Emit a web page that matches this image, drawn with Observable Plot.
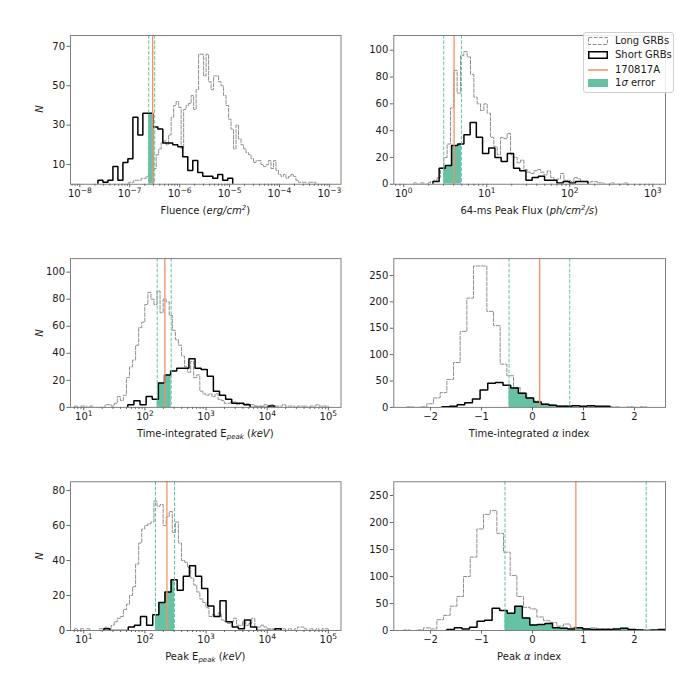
<!DOCTYPE html>
<html>
<head>
<meta charset="utf-8">
<script src="https://cdn.jsdelivr.net/npm/d3@7"></script>
<script src="https://cdn.jsdelivr.net/npm/@observablehq/plot@0.6"></script>
<style>
  body { margin: 0; background: #fff; }
  #fig { position: relative; width: 700px; height: 700px; font-family: "DejaVu Sans", sans-serif; color: #1a1a1a; }
  .cell { position: absolute; }
  .lab { position: absolute; font-size: 10px; line-height: 12px; white-space: nowrap; text-align: center; }
  .lab sup { font-size: 7px; vertical-align: 4px; line-height: 0; }
  .lab sub { font-size: 7px; vertical-align: -2px; line-height: 0; }
  .ylab { position: absolute; font-size: 10px; font-style: italic; transform: rotate(-90deg); line-height: 12px; }
  #legend { position: absolute; left: 583px; top: 32px; width: 89px; height: 59px; border: 1px solid #cfcfcf; border-radius: 3px; background: rgba(255,255,255,0.85); font-size: 10px; }
  .lrow { position: absolute; left: 0; height: 12px; line-height: 12px; }
  .lrow svg { position: absolute; left: 4px; top: 2px; }
  .lrow span { position: absolute; left: 31px; top: 0; white-space: nowrap; }
</style>
</head>
<body>
<div id="fig"></div>
<script>
// ---------------- DATA ----------------
// Histogram bins: [start (log10 for log axes), bin width (log10 for log axes)]
// Panel 1: Fluence
const fluenceShortBins = [-7.637, 0.1];
const fluenceShortCounts = [2,1,2,9,2,11,13,34,25,36,36,29,28,21,21,20,19,14,7,12,6,4,4,3,5,2,3];
const fluenceLongBins = [-7.02, 0.05];
const fluenceLongCounts = [1,1,2,2,2,3,3,4,6,10,8,15,18,21,22,20,25,34,40,42,39,18,38,40,41,45,38,48,66,66,55,66,52,48,55,55,52,50,45,40,33,28,18,30,23,20,18,16,15,13,11,12,12,10,9,10,12,8,12,7,5,4,5,3,4,5,4,2,1,1,1,0,1,1,1];
const fluenceGRB = [2.88e-7, 2.40e-7, 3.16e-7]; // value, lower, upper
const fluenceXTicks = [1e-8,1e-7,1e-6,1e-5,1e-4,1e-3];
const fluenceYTicks = [10,30,50,70];

// Panel 2: 64-ms peak flux
const fluxShortBins = [0.3514, 0.0747];
const fluxShortCounts = [2,12,14,29,30,37,46,35,23,27,20,17,23,12,10,3,5,6,3,3,1,2,1,2,2];
const fluxLongBins = [0.1205, 0.0402];
const fluxLongCounts = [1,0,1,0,1,2,3,5,12,20,30,57,85,68,96,99,95,82,65,60,55,60,53,35,28,22,35,34,38,22,20,16,18,11,9,8,10,11,9,7,10,5,3,4,8,3,3,2,5,4,2,2,1,2,2,1,1,0,0,1,0,0,0,1];
const fluxGRB = [4.04, 3.03, 4.95];
const fluxXTicks = [1,10,100,1000];
const fluxYTicks = [0,20,40,60,80,100];

// Panel 3: time-integrated Epeak
const tiEpeakShortBins = [1.72, 0.1];
const tiEpeakShortCounts = [2,5,2,8,6,18,24,27,29,29,36,29,28,23,12,9,6,3,3,2,0,0,0,1];
const tiEpeakLongBins = [0.848, 0.05];
const tiEpeakLongCounts = [1,0,1,1,0,1,0,0,0,0,2,2,1,3,8,5,9,22,30,35,46,59,63,76,85,80,76,86,70,80,78,68,57,50,46,38,30,26,34,22,24,12,10,9,10,8,10,6,5,3,3,4,4,2,3,2,3,2,2,1,1,1,2,1,2,1,1,1,2,1,1,1,0,1,1,1,0,1,1,2,1,1,1];
const tiEpeakGRB = [212, 159, 269];
const epeakXTicks = [10,100,1000,10000,100000];
const tiEpeakYTicks = [0,20,40,60,80,100];

// Panel 4: time-integrated alpha
const tiAlphaShortBins = [-1.778, 0.15];
const tiAlphaShortCounts = [1,2,5,9,16,33,46,47,42,37,27,18,10,6,4,2,2,3,2,3,2,2];
const tiAlphaLongBins = [-2.464, 0.1307];
const tiAlphaLongCounts = [1,0,1,7,18,28,53,85,144,207,268,268,182,155,82,60,38,27,18,12,7,5,3,3,2,3,2,2,2,1,1,1,0,1,0,1];
const tiAlphaGRB = [0.14, -0.46, 0.73];
const alphaXTicks = [-2,-1,0,1,2];
const alphaYTicks = [0,50,100,150,200,250];

// Panel 5: peak Epeak
const pkEpeakShortBins = [1.328, 0.1];
const pkEpeakShortCounts = [1,0,0,0,2,3,8,3,9,16,22,29,23,31,37,31,24,14,8,17,5,2,1,6,2,0,0,0,1];
const pkEpeakLongBins = [0.848, 0.05];
const pkEpeakLongCounts = [1,0,1,0,1,0,0,0,1,1,2,1,3,5,7,8,12,15,20,25,38,50,58,60,61,62,74,71,72,60,65,68,56,62,50,40,39,36,30,26,22,18,16,13,8,9,8,10,6,5,4,5,7,3,3,5,3,4,7,2,2,3,2,1,1,1,1,1,1,0,1,0,1,2,2,1,0,1,0,1,0,1,1];
const pkEpeakGRB = [229, 149, 305];
const pkEpeakYTicks = [0,20,40,60,80];

// Panel 6: peak alpha
const pkAlphaShortBins = [-1.68, 0.148];
const pkAlphaShortCounts = [2,5,3,6,17,19,41,37,32,45,23,10,11,13,5,4,3,5,3,2,2,2,3,4,2,1,0,1,2];
const pkAlphaLongBins = [-2.529, 0.1307];
const pkAlphaLongCounts = [1,0,1,5,3,20,28,45,63,100,136,188,215,222,180,145,102,63,43,40,25,18,15,8,12,6,4,3,5,3,3,2,2,2,1,1,1];
const pkAlphaGRB = [0.85, -0.54, 2.23];

// Text
const xLabels = [
  'Fluence (<i>erg/cm<sup>2</sup></i>)',
  '64-ms Peak Flux (<i>ph/cm<sup>2</sup>/s</i>)',
  'Time-integrated E<sub><i>peak</i></sub> (<i>keV</i>)',
  'Time-integrated <i>α</i> index',
  'Peak E<sub><i>peak</i></sub> (<i>keV</i>)',
  'Peak <i>α</i> index'
];
const legendLabels = ['Long GRBs', 'Short GRBs', '170817A', '1<i>σ</i> error'];

// ---------------- LAYOUT ----------------
const COL_GREEN = "#66c2a5", COL_ORANGE = "#fc8d62", COL_LONG = "#8f8f8f";
const panels = [
  {cell:[0,0,350,233],   frame:[70,35,340.5,183.75],   log:true,  xDomain:[-8.187,-2.767], yMax:75.5, xTicks:fluenceXTicks, yTicks:fluenceYTicks, sb:fluenceShortBins, sc:fluenceShortCounts, lb:fluenceLongBins, lc:fluenceLongCounts, grb:fluenceGRB, ylab:true},
  {cell:[350,0,350,233], frame:[393.3,35,665,183.75],  log:true,  xDomain:[-0.12,3.153],   yMax:111,  xTicks:fluxXTicks,    yTicks:fluxYTicks,    sb:fluxShortBins, sc:fluxShortCounts, lb:fluxLongBins, lc:fluxLongCounts, grb:fluxGRB, ylab:false},
  {cell:[0,233,350,233], frame:[70,258.1,340.5,406.9], log:true,  xDomain:[0.783,5.207],   yMax:110,  xTicks:epeakXTicks,   yTicks:tiEpeakYTicks, sb:tiEpeakShortBins, sc:tiEpeakShortCounts, lb:tiEpeakLongBins, lc:tiEpeakLongCounts, grb:tiEpeakGRB, ylab:true},
  {cell:[350,233,350,233], frame:[393.3,258.1,665,406.9], log:false, xDomain:[-2.72,2.608], yMax:282,  xTicks:alphaXTicks,   yTicks:alphaYTicks,   sb:tiAlphaShortBins, sc:tiAlphaShortCounts, lb:tiAlphaLongBins, lc:tiAlphaLongCounts, grb:tiAlphaGRB, ylab:false},
  {cell:[0,466,350,234], frame:[70,481.25,340.5,630],  log:true,  xDomain:[0.783,5.207],   yMax:85,   xTicks:epeakXTicks,   yTicks:pkEpeakYTicks, sb:pkEpeakShortBins, sc:pkEpeakShortCounts, lb:pkEpeakLongBins, lc:pkEpeakLongCounts, grb:pkEpeakGRB, ylab:true},
  {cell:[350,466,350,234], frame:[393.3,481.25,665,630], log:false, xDomain:[-2.72,2.608], yMax:275.5, xTicks:alphaXTicks, yTicks:alphaYTicks,   sb:pkAlphaShortBins, sc:pkAlphaShortCounts, lb:pkAlphaLongBins, lc:pkAlphaLongCounts, grb:pkAlphaGRB, ylab:false}
];

const logFmt = d => "10^" + Math.round(Math.log10(d));
const linFmt = d => d < 0 ? "\u2212" + (-d) : String(d);

function stepPoints(bins, counts, toX) {
  const [lo, w] = bins;
  const e = i => toX(lo + i * w);
  const pts = [{x: e(0), y: 0}];
  counts.forEach((c, i) => { pts.push({x: e(i), y: c}); pts.push({x: e(i + 1), y: c}); });
  pts.push({x: e(counts.length), y: 0});
  return pts;
}
function fillPoints(bins, counts, toX, a, b) {
  const [lo, w] = bins;
  const pts = [];
  counts.forEach((c, i) => {
    const x0 = toX(lo + i * w), x1 = toX(lo + (i + 1) * w);
    if (x1 <= a || x0 >= b) return;
    pts.push({x: Math.max(x0, a), y: c});
  });
  if (pts.length) pts.push({x: b, y: pts[pts.length - 1].y});
  return pts;
}

// Turn "10^-8" tick labels into 10 with a raised exponent
function superscriptTicks(svg) {
  const NS = "http://www.w3.org/2000/svg";
  svg.querySelectorAll("text").forEach(t => {
    const m = /^10\^(-?\d+)$/.exec(t.textContent.trim());
    if (!m) return;
    const n = +m[1];
    while (t.firstChild) t.removeChild(t.firstChild);
    const base = document.createElementNS(NS, "tspan");
    base.textContent = "10";
    const ex = document.createElementNS(NS, "tspan");
    ex.setAttribute("font-size", "7.5px");
    ex.setAttribute("dy", "-4");
    ex.textContent = n < 0 ? "\u2212" + (-n) : String(n);
    t.appendChild(base); t.appendChild(ex);
  });
}

const fig = document.getElementById("fig");

panels.forEach((p, idx) => {
  const [cx, cy, cw, ch] = p.cell;
  const [fx0, fy0, fx1, fy1] = p.frame;
  const toX = p.log ? v => Math.pow(10, v) : v => v;
  const xd = p.log ? p.xDomain.map(v => Math.pow(10, v)) : p.xDomain;
  const shortPts = stepPoints(p.sb, p.sc, toX);
  const longPts = stepPoints(p.lb, p.lc, toX);
  const [val, lo, hi] = p.grb;
  const fill = fillPoints(p.sb, p.sc, toX, lo, hi);
  const minor = [];
  if (p.log) {
    for (let n = Math.floor(p.xDomain[0]); n <= Math.ceil(p.xDomain[1]); n++)
      for (let k = 2; k <= 9; k++) {
        const v = k * Math.pow(10, n);
        if (v >= xd[0] && v <= xd[1]) minor.push(v);
      }
  }
  const marks = [
    Plot.line(longPts, {x: "x", y: "y", stroke: COL_LONG, strokeWidth: 1, strokeDasharray: "3.7,1.6", strokeLinejoin: "miter", clip: true}),
    Plot.areaY(fill, {x: "x", y: "y", curve: "step-after", fill: COL_GREEN, clip: true}),
    Plot.line(shortPts, {x: "x", y: "y", stroke: "#000", strokeWidth: 1.5, strokeLinejoin: "miter", clip: true}),
    Plot.ruleX([lo, hi], {stroke: COL_GREEN, strokeWidth: 1, strokeDasharray: "3.7,1.6"}),
    Plot.ruleX([val], {stroke: COL_ORANGE, strokeWidth: 1.3}),
    Plot.frame({stroke: "#808080", strokeWidth: 1}),
    Plot.axisX({ticks: p.xTicks, tickFormat: p.log ? logFmt : linFmt, tickSize: 3.5, tickPadding: 2, stroke: "#666", label: null}),
    Plot.axisY({ticks: p.yTicks, tickFormat: d => String(d), tickSize: 3.5, tickPadding: 2, stroke: "#666", label: null})
  ];
  if (p.log) marks.push(Plot.axisX({ticks: minor, tickSize: 2, stroke: "#666", fill: "none", label: null}));
  const svg = Plot.plot({
    width: cw, height: ch,
    marginLeft: fx0 - cx, marginRight: cx + cw - fx1,
    marginTop: fy0 - cy, marginBottom: cy + ch - fy1,
    x: {type: p.log ? "log" : "linear", domain: xd},
    y: {domain: [0, p.yMax]},
    style: {fontFamily: '"DejaVu Sans", sans-serif', fontSize: "10px", background: "transparent", color: "#1a1a1a", overflow: "visible"},
    marks
  });
  if (p.log) superscriptTicks(svg);
  const div = document.createElement("div");
  div.className = "cell";
  div.style.left = cx + "px"; div.style.top = cy + "px";
  div.appendChild(svg);
  fig.appendChild(div);

  // x label
  const lab = document.createElement("div");
  lab.className = "lab";
  lab.innerHTML = xLabels[idx];
  const mid = (fx0 + fx1) / 2;
  lab.style.left = (mid - 150) + "px"; lab.style.width = "300px";
  lab.style.top = (fy1 + 21) + "px";
  fig.appendChild(lab);

  if (p.ylab) {
    const yl = document.createElement("div");
    yl.className = "ylab";
    yl.textContent = "N";
    yl.style.left = "35px"; yl.style.width = "10px"; yl.style.textAlign = "center";
    yl.style.top = ((fy0 + fy1) / 2 - 6) + "px";
    fig.appendChild(yl);
  }
});

// Legend
const legend = document.createElement("div");
legend.id = "legend";
const swatches = [
  '<svg width="20" height="8"><rect x="0.5" y="0.5" width="19" height="7" fill="none" stroke="' + COL_LONG + '" stroke-width="1" stroke-dasharray="3.7,1.6"/></svg>',
  '<svg width="20" height="8"><rect x="0.75" y="0.75" width="18.5" height="6.5" fill="none" stroke="#000" stroke-width="1.5"/></svg>',
  '<svg width="20" height="8"><line x1="0" y1="4" x2="20" y2="4" stroke="' + COL_ORANGE + '" stroke-width="1.5"/></svg>',
  '<svg width="20" height="8"><rect x="0" y="0" width="20" height="8" fill="' + COL_GREEN + '"/></svg>'
];
const rowTops = [2, 16.3, 30.7, 44.3];
legendLabels.forEach((t, i) => {
  const r = document.createElement("div");
  r.className = "lrow";
  r.style.top = rowTops[i] + "px";
  r.innerHTML = swatches[i] + '<span>' + t + '</span>';
  legend.appendChild(r);
});
fig.appendChild(legend);
</script>
</body>
</html>
